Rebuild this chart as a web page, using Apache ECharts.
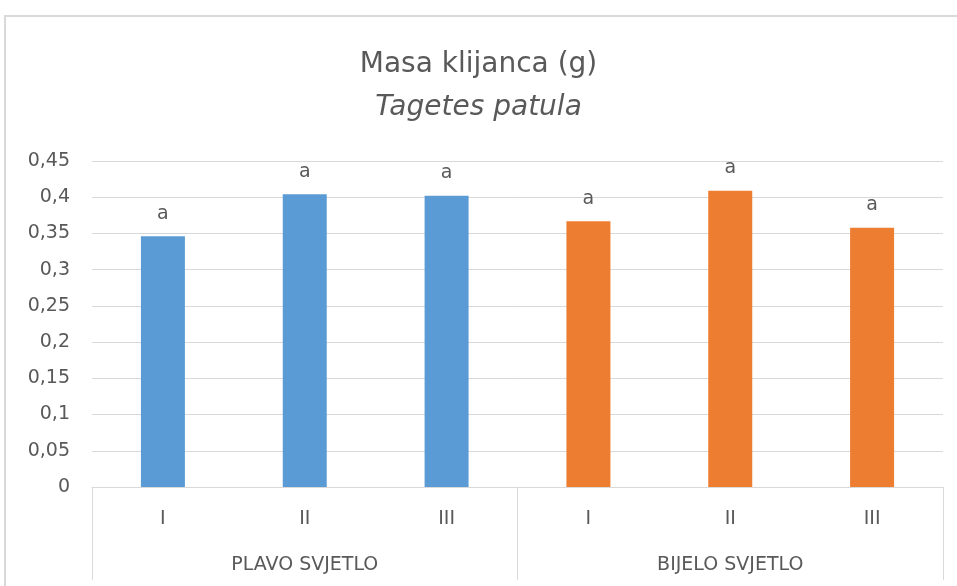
<!DOCTYPE html>
<html>
<head>
<meta charset="utf-8">
<script src="https://cdn.jsdelivr.net/npm/echarts@6/dist/echarts.min.js"></script>
<style>
  html, body { margin: 0; padding: 0; background: #fff; }
</style>
</head>
<body>
<div id="main" style="width: 957px; height: 586px;"></div>
<script type="text/javascript">
// data
var groups = ['PLAVO SVJETLO', 'BIJELO SVJETLO'];
var treatments = ['I', 'II', 'III'];
var plavo = [0.346, 0.404, 0.402];
var bijelo = [0.367, 0.409, 0.358];
var letters = ['a', 'a', 'a', 'a', 'a', 'a'];
var yTicks = [0, 0.05, 0.1, 0.15, 0.2, 0.25, 0.3, 0.35, 0.4, 0.45];

var colors = ['#5b9bd5', '#ed7d31'];
var font = '"DejaVu Sans", sans-serif';

var categories = [];
var barData = [];
[plavo, bijelo].forEach(function (vals, g) {
  vals.forEach(function (v, i) {
    categories.push(treatments[i]);
    barData.push({ value: v, itemStyle: { color: colors[g] } });
  });
});

var myChart = echarts.init(document.getElementById('main'));

var option = {
  backgroundColor: '#fff',
  animation: false,
  title: {
    text: 'Masa klijanca (g)',
    subtext: 'Tagetes patula',
    left: 'center',
    top: 46,
    itemGap: 15,
    textStyle: { fontFamily: font, fontSize: 28, fontWeight: 'normal', color: '#595959' },
    subtextStyle: { fontFamily: font, fontSize: 28, fontStyle: 'italic', color: '#595959' }
  },
  graphic: [{
    type: 'rect',
    shape: { x: 5, y: 16, width: 970, height: 600 },
    style: { fill: 'none', stroke: '#d9d9d9', lineWidth: 2 },
    silent: true
  }],
  grid: { left: 92, right: 14, top: 161, bottom: 99 },
  xAxis: [{
    type: 'category',
    data: categories,
    axisLine: { show: true, lineStyle: { color: '#d9d9d9', width: 1 } },
    axisTick: { show: false },
    axisLabel: { margin: 23, fontFamily: font, fontSize: 19, color: '#595959' }
  }, {
    type: 'category',
    data: groups,
    position: 'bottom',
    axisLine: { show: false },
    axisTick: { show: true, length: 93, lineStyle: { color: '#d9d9d9' } },
    axisLabel: { margin: 69, fontFamily: font, fontSize: 19, color: '#595959' }
  }],
  yAxis: {
    type: 'value',
    min: 0,
    max: yTicks[yTicks.length - 1],
    interval: 0.05,
    axisLine: { show: false },
    axisTick: { show: false },
    splitLine: { lineStyle: { color: '#d9d9d9' } },
    axisLabel: {
      margin: 22,
      fontFamily: font,
      fontSize: 19,
      color: '#595959',
      formatter: function (v) { return String(+v.toFixed(2)).replace('.', ','); }
    }
  },
  series: [{
    type: 'bar',
    xAxisIndex: 0,
    barWidth: 44,
    data: barData,
    label: {
      show: true,
      position: 'top',
      distance: 13,
      fontFamily: font,
      fontSize: 19,
      color: '#595959',
      formatter: function (p) { return letters[p.dataIndex]; }
    }
  }]
};

myChart.setOption(option);
</script>
</body>
</html>
